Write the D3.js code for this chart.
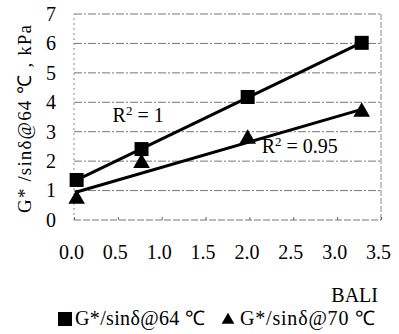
<!DOCTYPE html>
<html><head><meta charset="utf-8">
<script src="https://cdn.jsdelivr.net/npm/d3@7"></script>
</head><body style="margin:0;background:#fff"><svg id="c" width="399" height="334"></svg>
<script>
const bali = [0.03, 0.77, 1.98, 3.28];
const g64 = [1.36, 2.41, 4.18, 6.02];
const g70 = [0.68, 1.90, 2.72, 3.64];
const xTicks = [0, 0.5, 1, 1.5, 2, 2.5, 3, 3.5];
const yTicks = [0, 1, 2, 3, 4, 5, 6, 7];
const seriesNames = ["G*/sinδ@64 ℃", "G*/sinδ@70 ℃"];
const r2Labels = ["1", "0.95"];

const FONT = "Liberation Serif";
const svg = d3.select("#c");
const x = d3.scaleLinear().domain([0, 3.5]).range([74, 381]);
const y = d3.scaleLinear().domain([0, 7]).range([220, 14]);

svg.append("g").selectAll("line").data(yTicks).join("line")
  .attr("x1", x(0)).attr("x2", x(3.5)).attr("y1", d => y(d)).attr("y2", d => y(d))
  .attr("stroke", "#777").attr("stroke-width", 1).attr("stroke-dasharray", d => d === 0 ? "7,2" : "8,2,2,2");
svg.append("line").attr("x1", x(0)).attr("x2", x(0)).attr("y1", y(0)).attr("y2", y(7))
  .attr("stroke", "#888").attr("stroke-dasharray", "2,3");
svg.append("line").attr("x1", x(3.5)).attr("x2", x(3.5)).attr("y1", y(0)).attr("y2", y(7))
  .attr("stroke", "#888").attr("stroke-dasharray", "6,2");

const xa = d3.axisBottom(x).tickValues(xTicks).tickSize(-3).tickPadding(24).tickFormat(d3.format(".1f"));
const gx = svg.append("g").attr("transform", `translate(0,${y(0)})`).call(xa)
  .attr("font-family", FONT).attr("font-size", 20);
gx.select(".domain").remove();
gx.selectAll(".tick line").attr("stroke", "#666");
gx.selectAll(".tick text").attr("dy", 0).attr("dx", -3).attr("y", 39).attr("fill", "#000")
  .attr("font-family", FONT).attr("font-size", 20);

const ya = d3.axisLeft(y).tickValues(yTicks).tickSize(0).tickPadding(18).tickFormat(d3.format("d"));
const gy = svg.append("g").attr("transform", `translate(${x(0)},0)`).call(ya)
  .attr("font-family", FONT).attr("font-size", 20);
gy.select(".domain").remove();
gy.selectAll(".tick text").attr("fill", "#000").attr("font-family", FONT).attr("font-size", 20);

function fit(xs, ys) {
  const mx = d3.mean(xs), my = d3.mean(ys);
  const sxy = d3.sum(xs, (v, i) => (v - mx) * (ys[i] - my));
  const sxx = d3.sum(xs, v => (v - mx) ** 2);
  const b = sxy / sxx; return [b, my - b * mx];
}
[g64, g70].forEach(ys => {
  const [b, a] = fit(bali, ys);
  const x0 = d3.min(bali) - 0.02, x1 = d3.max(bali);
  svg.append("line").attr("x1", x(x0)).attr("y1", y(a + b * x0)).attr("x2", x(x1)).attr("y2", y(a + b * x1))
    .attr("stroke", "#000").attr("stroke-width", 3);
});

svg.append("g").selectAll("rect").data(bali).join("rect")
  .attr("x", (d) => x(d) - 7).attr("y", (d, i) => y(g64[i]) - 7).attr("width", 14).attr("height", 14).attr("fill", "#000");
const tri = d3.symbol().type(d3.symbolTriangle).size(120);
svg.append("g").selectAll("path").data(bali).join("path")
  .attr("d", tri).attr("transform", (d, i) => `translate(${x(d)},${y(g70[i]) - 1})`).attr("fill", "#000");

function txt(xp, yp, size) {
  return svg.append("text").attr("x", xp).attr("y", yp).attr("font-family", FONT).attr("font-size", size).attr("fill", "#000");
}
function r2(xp, yp, val) {
  const t = txt(xp, yp, 20);
  t.append("tspan").text("R");
  t.append("tspan").text("2").attr("font-size", 13).attr("dy", -7);
  t.append("tspan").text(" = " + val).attr("dy", 7);
}
r2(x(0.44), y(3.33), r2Labels[0]);
r2(x(2.14), y(2.28), r2Labels[1]);

svg.append("text").attr("transform", "translate(31,119) rotate(-90)").attr("text-anchor", "middle")
  .attr("font-family", FONT).attr("font-size", 19).attr("fill", "#000")
  .attr("textLength", 188).attr("lengthAdjust", "spacing")
  .text("G* /sinδ@64 ℃ , kPa");
txt(378, 302, 20).attr("text-anchor", "end").text("BALI");

svg.append("rect").attr("x", 58).attr("y", 312).attr("width", 14).attr("height", 14).attr("fill", "#000");
txt(75, 325, 20).attr("textLength", 130).attr("lengthAdjust", "spacing").text(seriesNames[0]);
svg.append("path").attr("d", d3.symbol().type(d3.symbolTriangle).size(70)).attr("transform", "translate(228,320)").attr("fill", "#000");
txt(240, 325, 20).attr("textLength", 135).attr("lengthAdjust", "spacing").text(seriesNames[1]);
</script></body></html>
